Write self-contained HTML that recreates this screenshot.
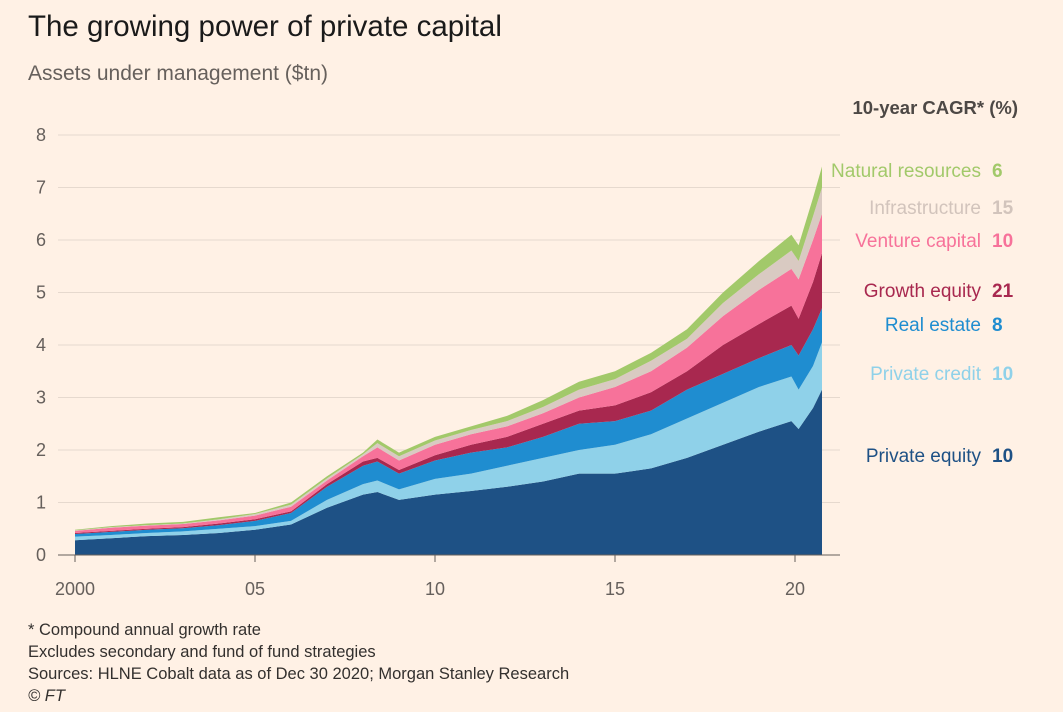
<!DOCTYPE html>
<html><head><meta charset="utf-8"><style>
body{margin:0;background:#fff1e5;font-family:"Liberation Sans",sans-serif;}
#wrap{position:relative;width:1063px;height:712px;overflow:hidden;background:#fff1e5;}
.t{position:absolute;white-space:nowrap;}
</style></head><body>
<div id="wrap">
<div class="t" style="left:28px;top:10px;font-size:29.5px;color:#1a1a1a;">The growing power of private capital</div>
<div class="t" style="left:28px;top:62px;font-size:21px;color:#66605c;">Assets under management ($tn)</div>
<div class="t" style="right:45px;top:97px;font-size:18.5px;font-weight:bold;color:#4d4845;">10-year CAGR* (%)</div>
<svg id="chart" width="1063" height="712" style="position:absolute;left:0;top:0;"></svg>
<div class="t" style="left:28px;top:621px;font-size:16.5px;color:#33302e;">* Compound annual growth rate</div>
<div class="t" style="left:28px;top:643px;font-size:16.5px;color:#33302e;">Excludes secondary and fund of fund strategies</div>
<div class="t" style="left:28px;top:665px;font-size:16.5px;color:#33302e;">Sources: HLNE Cobalt data as of Dec 30 2020; Morgan Stanley Research</div>
<div class="t" style="left:28px;top:687px;font-size:16.5px;color:#33302e;font-style:italic;">© FT</div>
</div>
<script>
const years=[2000,2001,2002,2003,2004,2005,2006,2007,2008,2008.4,2009,2010,2011,2012,2013,2014,2015,2016,2017,2018,2019,2019.9,2020.1,2020.5,2020.75];
// cumulative tops of each stacked layer ($tn)
const privateEquity=[.28,.32,.36,.38,.42,.48,.58,.9,1.15,1.2,1.05,1.15,1.22,1.3,1.4,1.55,1.55,1.65,1.85,2.1,2.35,2.55,2.4,2.8,3.15];
const privateCredit=[.35,.38,.42,.45,.5,.55,.65,1.05,1.35,1.42,1.25,1.45,1.55,1.7,1.85,2.0,2.1,2.3,2.6,2.9,3.2,3.4,3.15,3.6,4.05];
const realEstate=[.4,.44,.48,.51,.57,.65,.8,1.3,1.7,1.78,1.55,1.8,1.95,2.05,2.25,2.5,2.55,2.75,3.15,3.45,3.75,4.0,3.8,4.3,4.7];
const growthEquity=[.42,.46,.5,.53,.6,.68,.83,1.35,1.78,1.85,1.62,1.9,2.1,2.25,2.5,2.75,2.85,3.1,3.5,4.0,4.4,4.75,4.5,5.2,5.75];
const ventureCapital=[.46,.52,.56,.59,.66,.75,.92,1.42,1.88,2.05,1.8,2.1,2.3,2.45,2.7,3.0,3.2,3.5,3.95,4.55,5.05,5.45,5.25,6.0,6.5];
const infrastructure=[.47,.53,.57,.6,.68,.78,.96,1.46,1.92,2.13,1.88,2.18,2.38,2.55,2.82,3.15,3.35,3.7,4.12,4.8,5.35,5.8,5.6,6.45,7.0];
const naturalResources=[.48,.55,.6,.63,.72,.8,1.0,1.5,1.95,2.2,1.95,2.25,2.45,2.65,2.95,3.3,3.5,3.85,4.3,5.0,5.6,6.1,5.9,6.8,7.4];
const yTicks=[0,1,2,3,4,5,6,7,8];
const xTicks=[2000,2005,2010,2015,2020];
const xTickLabels=["2000","05","10","15","20"];
const seriesNames=["Private equity","Private credit","Real estate","Growth equity","Venture capital","Infrastructure","Natural resources"];
const cagr=["10","10","8","21","10","15","6"];

const NS="http://www.w3.org/2000/svg";
const svg=document.getElementById('chart');
const X=v=>75+(v-2000)*36;
const Y=v=>555-v*52.5;
function mk(tag,attrs,parent){const e=document.createElementNS(NS,tag);for(const k in attrs)e.setAttribute(k,attrs[k]);(parent||svg).appendChild(e);return e;}
yTicks.forEach(t=>{
  const l=mk('line',{x1:58,x2:840,y1:Y(t),y2:Y(t),stroke:t===0?'#66605c':'#e6d9ce','stroke-width':1});
  
  
  const tx=mk('text',{x:46,y:Y(t)+6,'text-anchor':'end','font-size':18,fill:'#66605c','font-family':'Liberation Sans, sans-serif'});
  tx.textContent=t;
  
  
});
xTicks.forEach((t,i)=>{
  const l=mk('line',{x1:X(t),x2:X(t),y1:555,y2:562,stroke:'#66605c'});
  
  
  const tx=mk('text',{x:X(t),y:595,'text-anchor':'middle','font-size':18,fill:'#66605c','font-family':'Liberation Sans, sans-serif'});
  tx.textContent=xTickLabels[i];
  
  
});
const layers=[privateEquity,privateCredit,realEstate,growthEquity,ventureCapital,infrastructure,naturalResources];
const colors=['#1e5185','#8fd1e9','#1f8dd0','#a8284f','#f7729a','#d9cac2','#a2c96a'];
const textColors=['#1e5185','#8fd1e9','#1f8dd0','#a8284f','#f7729a','#d2c4bc','#a2c96a'];
const labelY=[455,373,324,290,240,207,170];
const ids=['private-equity','private-credit','real-estate','growth-equity','venture-capital','infrastructure','natural-resources'];
layers.forEach((top,i)=>{
  const base=i===0?years.map(()=>0):layers[i-1];
  let d='M'+years.map((y,j)=>X(y)+','+Y(top[j])).join(' L');
  for(let j=years.length-1;j>=0;j--)d+=' L'+X(years[j])+','+Y(base[j]);
  const p=mk('path',{d:d+'Z',fill:colors[i]});
  
  
  const lt=mk('text',{x:981,y:labelY[i]+7,'text-anchor':'end','font-size':19,fill:textColors[i],'font-family':'Liberation Sans, sans-serif'});
  lt.textContent=seriesNames[i];
  
  
  const vt=mk('text',{x:992,y:labelY[i]+7,'font-size':19,'font-weight':'bold',fill:textColors[i],'font-family':'Liberation Sans, sans-serif'});
  vt.textContent=cagr[i];
  
  
});
const ax=mk('line',{x1:58,x2:840,y1:555,y2:555,stroke:'#66605c'});


</script>
</body></html>
